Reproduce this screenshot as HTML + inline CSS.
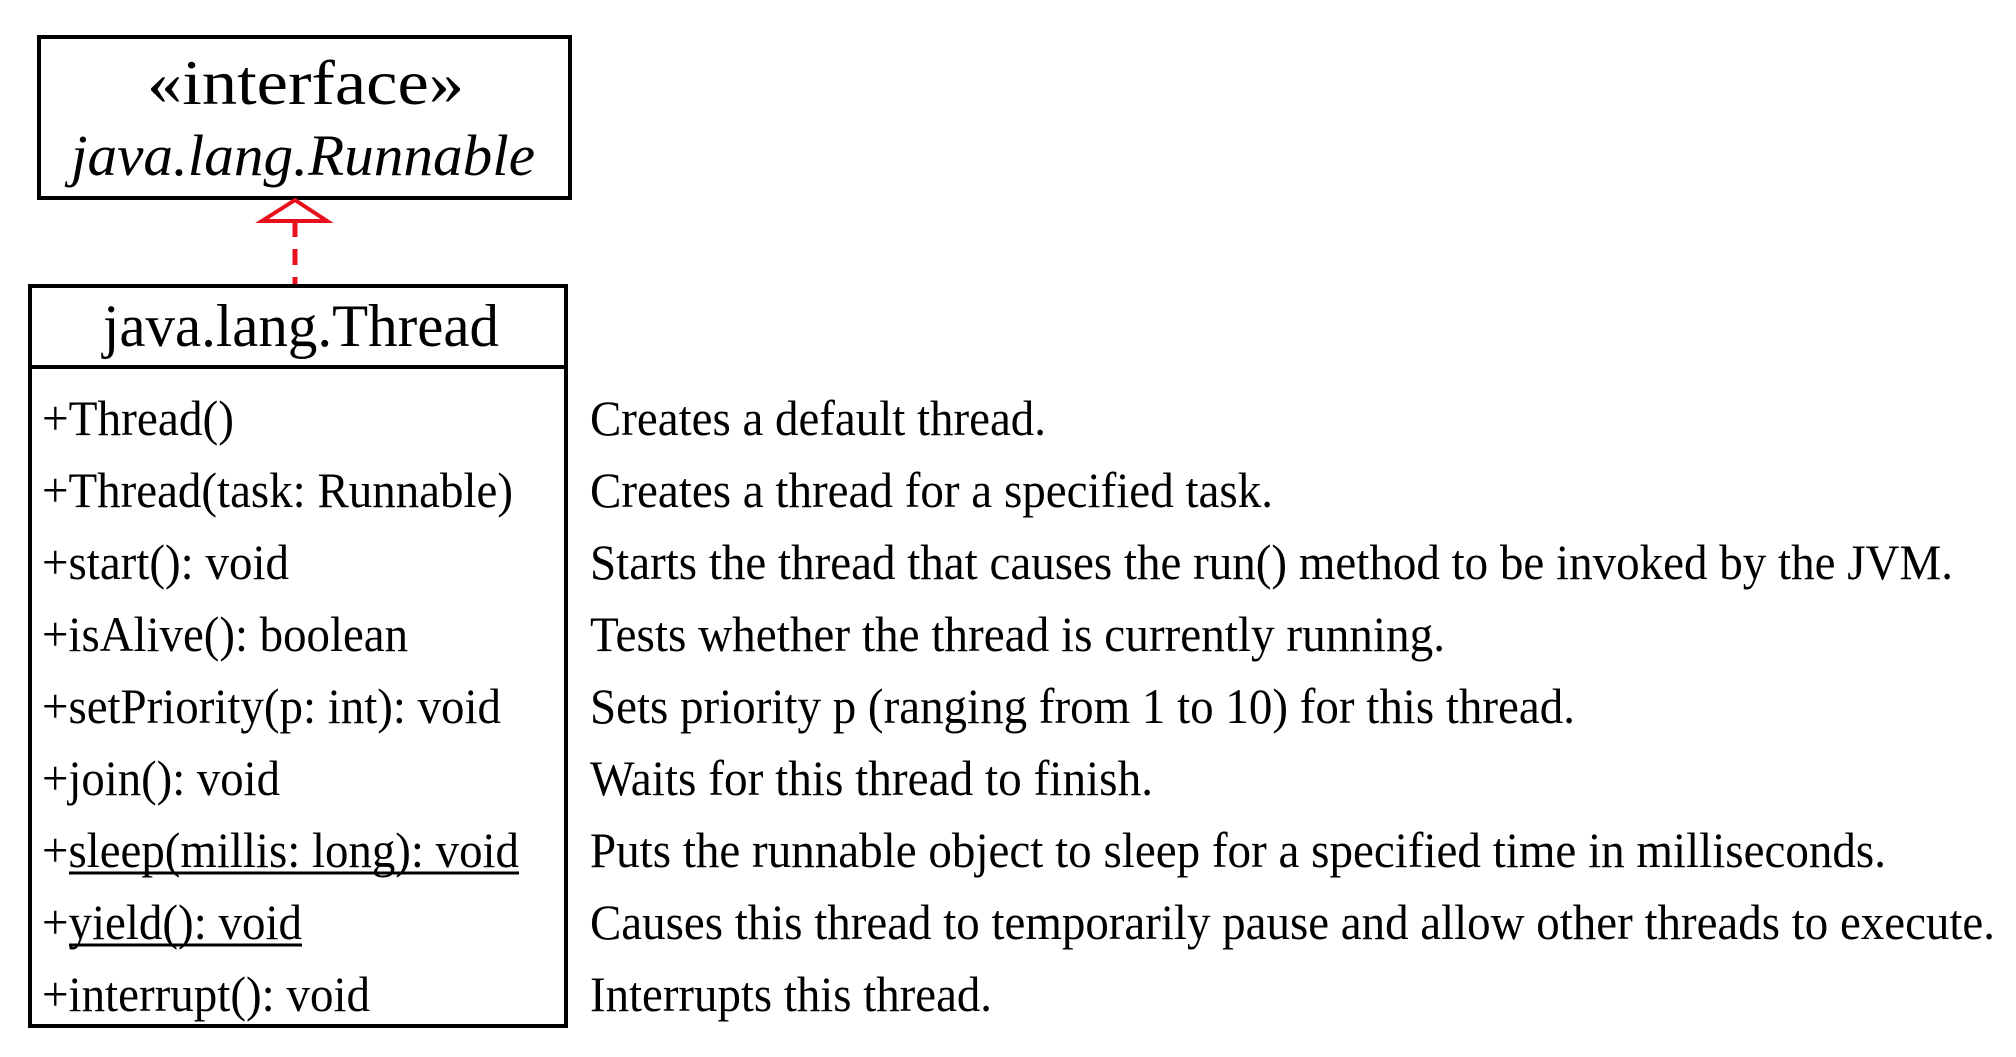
<!DOCTYPE html>
<html><head><meta charset="utf-8"><style>
html,body{margin:0;padding:0;background:#fff;width:2016px;height:1057px;overflow:hidden}
svg text{font-family:"Liberation Serif",serif;fill:#000}
</style></head><body>
<svg width="2016" height="1057" viewBox="0 0 2016 1057">
<g>
<rect x="39" y="37" width="531" height="161" fill="none" stroke="#000" stroke-width="4"/>
<text x="147" y="104" font-size="64" textLength="317" lengthAdjust="spacingAndGlyphs">«interface»</text>
<text x="71" y="175" font-size="58" font-style="italic" textLength="464" lengthAdjust="spacingAndGlyphs">java.lang.Runnable</text>
</g>
<g>
<polygon points="295,200 262,221 327,221" fill="none" stroke="#e8101c" stroke-width="4"/>
<line x1="295" y1="221" x2="295" y2="287" stroke="#e8101c" stroke-width="5" stroke-dasharray="16,12"/>
</g>
<g>
<rect x="30" y="286" width="536" height="740" fill="none" stroke="#000" stroke-width="4"/>
<line x1="30" y1="367" x2="566" y2="367" stroke="#000" stroke-width="4"/>
<text x="103" y="346" font-size="60" textLength="396" lengthAdjust="spacingAndGlyphs">java.lang.Thread</text>
</g>
<g id="rows"></g>
</svg>
<script>
const methods=["+Thread()","+Thread(task: Runnable)","+start(): void","+isAlive(): boolean","+setPriority(p: int): void","+join(): void","+sleep(millis: long): void","+yield(): void","+interrupt(): void"];
const mW=[149,366,192,285,357,185,371,202,255];
const descs=["Creates a default thread.","Creates a thread for a specified task.","Starts the thread that causes the run() method to be invoked by the JVM.","Tests whether the thread is currently running.","Sets priority p (ranging from 1 to 10) for this thread.","Waits for this thread to finish.","Puts the runnable object to sleep for a specified time in milliseconds.","Causes this thread to temporarily pause and allow other threads to execute.","Interrupts this thread."];
const dW=[355,531,1060,665,766,438,1008,1093,313];
const underlined=[false,false,false,false,false,false,true,true,false];
const NS="http://www.w3.org/2000/svg";
const g=document.getElementById('rows');
const S=1.2857;
methods.forEach((m,i)=>{
  const y=435+i*72;
  const t=document.createElementNS(NS,'text');
  t.setAttribute('x',42);t.setAttribute('y',y);t.setAttribute('font-size',50);
  t.setAttribute('textLength',Math.round(mW[i]*S));t.setAttribute('lengthAdjust','spacingAndGlyphs');
  t.textContent=m;
  
  
  g.appendChild(t);
  if(underlined[i]){
    const l=document.createElementNS(NS,'line');
    l.setAttribute('x1',69);l.setAttribute('x2',42+Math.round(mW[i]*S));
    l.setAttribute('y1',y+6);l.setAttribute('y2',y+6);
    l.setAttribute('stroke','#000');l.setAttribute('stroke-width',3);
    
    
    g.appendChild(l);
  }
  const d=document.createElementNS(NS,'text');
  d.setAttribute('x',590);d.setAttribute('y',y);d.setAttribute('font-size',50);
  d.setAttribute('textLength',Math.round(dW[i]*S));d.setAttribute('lengthAdjust','spacingAndGlyphs');
  d.textContent=descs[i];
  
  
  g.appendChild(d);
});
</script>
</body></html>
